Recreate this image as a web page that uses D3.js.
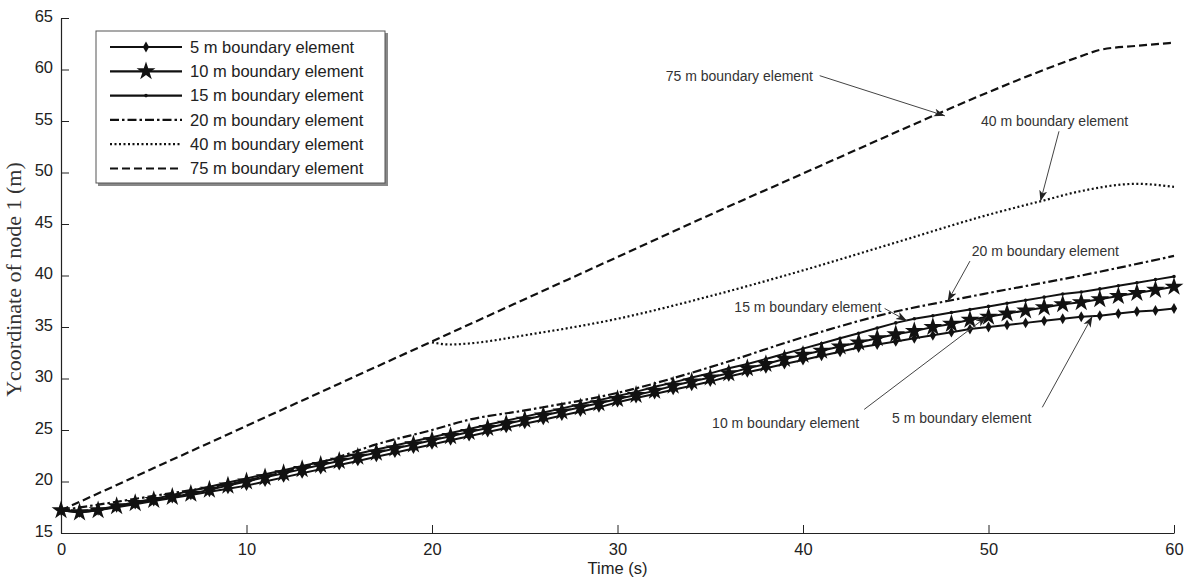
<!DOCTYPE html>
<html>
<head>
<meta charset="utf-8">
<script src="https://cdn.jsdelivr.net/npm/d3@7/dist/d3.min.js"></script>
<style>
  body { margin: 0; background: #fff; }
  svg { display: block; }
</style>
</head>
<body>
<svg id="chart"></svg>
<script>
// time stamps (s) of the marker series, one per second
const seconds = d3.range(0, 61);

// 5 m boundary element (diamonds)
const be5 = [17.2, 17.0, 17.2, 17.5, 17.8, 18.1, 18.4, 18.7, 19.0, 19.3,
  19.6, 20.0, 20.4, 20.8, 21.2, 21.6, 22.0, 22.4, 22.8, 23.2,
  23.6, 24.0, 24.4, 24.8, 25.2, 25.6, 26.0, 26.4, 26.8, 27.2,
  27.7, 28.1, 28.5, 28.9, 29.3, 29.7, 30.2, 30.6, 31.0, 31.4,
  31.8, 32.2, 32.6, 33.0, 33.3, 33.6, 33.9, 34.2, 34.5, 34.8,
  35.0, 35.2, 35.4, 35.6, 35.8, 36.0, 36.1, 36.3, 36.5, 36.6, 36.8];

// 10 m boundary element (stars)
const be10 = [17.2, 17.0, 17.2, 17.6, 17.9, 18.2, 18.5, 18.8, 19.2, 19.6,
  20.0, 20.4, 20.8, 21.2, 21.6, 22.0, 22.4, 22.8, 23.2, 23.6,
  24.0, 24.4, 24.8, 25.2, 25.6, 26.0, 26.4, 26.8, 27.2, 27.6,
  28.0, 28.4, 28.8, 29.3, 29.7, 30.1, 30.5, 31.0, 31.4, 31.9,
  32.3, 32.7, 33.1, 33.5, 33.9, 34.3, 34.6, 35.0, 35.3, 35.7,
  36.0, 36.3, 36.6, 36.9, 37.2, 37.4, 37.7, 38.0, 38.3, 38.6, 38.9];

// 15 m boundary element (small dots)
const be15 = [17.2, 17.1, 17.3, 17.6, 18.0, 18.3, 18.7, 19.1, 19.5, 19.9,
  20.3, 20.7, 21.1, 21.5, 21.9, 22.3, 22.7, 23.1, 23.5, 23.9,
  24.3, 24.7, 25.1, 25.5, 25.9, 26.3, 26.7, 27.1, 27.5, 27.9,
  28.3, 28.7, 29.2, 29.6, 30.1, 30.5, 31.0, 31.4, 31.9, 32.4,
  32.9, 33.4, 33.9, 34.4, 34.9, 35.4, 35.8, 36.1, 36.4, 36.7,
  37.0, 37.3, 37.6, 37.9, 38.2, 38.4, 38.7, 39.0, 39.3, 39.6, 39.9];

// 20 m boundary element (dash-dot)
const t20 = [0, 5, 10, 15, 17, 20, 22, 25, 30, 35, 40, 45, 48, 50, 55, 60];
const be20 = [17.2, 18.6, 20.1, 22.4, 23.6, 25.0, 26.0, 26.9, 28.6, 31.1, 34.0, 36.5, 37.6, 38.3, 40.0, 41.9];

// 40 m boundary element (dotted)
const t40 = [20, 21, 22, 25, 30, 35, 40, 45, 50, 53, 55, 58, 60];
const be40 = [33.5, 33.3, 33.4, 34.2, 35.8, 38.0, 40.5, 43.2, 45.9, 47.3, 48.2, 48.9, 48.6];

// 75 m boundary element (dashed)
const t75 = [0, 5, 10, 15, 20, 25, 30, 35, 40, 45, 50, 55, 56, 58, 60];
const be75 = [17.2, 21.3, 25.4, 29.5, 33.6, 37.7, 41.8, 45.9, 49.9, 53.9, 57.8, 61.3, 61.9, 62.3, 62.6];

const legendLabels = ["5 m boundary element", "10 m boundary element", "15 m boundary element",
  "20 m boundary element", "40 m boundary element", "75 m boundary element"];

const xTicks = [0, 10, 20, 30, 40, 50, 60];
const yTicks = [15, 20, 25, 30, 35, 40, 45, 50, 55, 60, 65];

// call-outs: label anchor, start of leader and arrow tip, all in data units
const notes = [
  {text: "75 m boundary element", tx: 32.6, ty: 59.4, x1: 40.9, y1: 59.4, x2: 47.65, y2: 55.5},
  {text: "40 m boundary element", tx: 49.6, ty: 55.0, x1: 53.8, y1: 54.0, x2: 52.8, y2: 47.2},
  {text: "20 m boundary element", tx: 49.1, ty: 42.4, x1: 49.0, y1: 41.4, x2: 47.8, y2: 37.5},
  {text: "15 m boundary element", tx: 36.3, ty: 36.9, x1: 44.4, y1: 36.8, x2: 45.6, y2: 35.6},
  {text: "10 m boundary element", tx: 35.1, ty: 25.7, x1: 43.3, y1: 27.0, x2: 49.9, y2: 36.0},
  {text: "5 m boundary element", tx: 44.8, ty: 26.2, x1: 52.9, y1: 27.2, x2: 55.6, y2: 36.05}
];

const width = 1186, height = 578;
const margin = {top: 18, right: 12, bottom: 45, left: 61};

const svg = d3.select("#chart")
  .attr("width", width)
  .attr("height", height)
  .attr("viewBox", [0, 0, width, height]);

const x = d3.scaleLinear().domain([0, 60]).range([margin.left, width - margin.right]);
const y = d3.scaleLinear().domain([15, 65]).range([height - margin.bottom, margin.top]);

const sans = "'Liberation Sans', Arial, sans-serif";

svg.append("defs").append("marker")
  .attr("id", "arrow")
  .attr("viewBox", "0 -5 12 10")
  .attr("refX", 11)
  .attr("refY", 0)
  .attr("markerWidth", 12)
  .attr("markerHeight", 10)
  .attr("markerUnits", "userSpaceOnUse")
  .attr("orient", "auto")
  .append("path")
  .attr("d", "M0,-4L11,0L0,4L3,0Z")
  .attr("fill", "#222");

// axes, ticks pointing inward
const xAxis = svg.append("g")
  .attr("transform", `translate(0,${height - margin.bottom})`)
  .call(d3.axisBottom(x).tickValues(xTicks).tickSize(-8).tickPadding(10).tickSizeOuter(0));

const yAxis = svg.append("g")
  .attr("transform", `translate(${margin.left},0)`)
  .call(d3.axisLeft(y).tickValues(yTicks).tickSize(-8).tickPadding(8).tickSizeOuter(0));

[xAxis, yAxis].forEach(g => {
  g.select(".domain").attr("stroke", "#222").attr("stroke-width", 1.2);
  g.selectAll(".tick line").attr("stroke", "#222");
  g.selectAll(".tick text").attr("fill", "#222").style("font-family", sans).style("font-size", "16.5px");
});
yAxis.selectAll(".tick text").attr("dy", "0.2em");

svg.append("text")
  .attr("x", (x(0) + x(60)) / 2)
  .attr("y", height - 4)
  .attr("text-anchor", "middle")
  .style("font-family", sans)
  .style("font-size", "16.5px")
  .attr("fill", "#222")
  .text("Time (s)");

svg.append("text")
  .attr("transform", `translate(21,${(y(15) + y(65)) / 2 + 4}) rotate(-90)`)
  .attr("text-anchor", "middle")
  .style("font-family", "'Liberation Serif', 'Times New Roman', serif")
  .style("font-size", "22px")
  .attr("fill", "#333")
  .text("Ycoordinate of node 1 (m)");

// series
const smooth = d3.line().x(d => x(d[0])).y(d => y(d[1])).curve(d3.curveMonotoneX);
const straight = d3.line().x(d => x(d[0])).y(d => y(d[1]));

const styled = [
  {t: t75, v: be75, dash: "8,4"},
  {t: t40, v: be40, dash: "2,2.5"},
  {t: t20, v: be20, dash: "9,3,2.5,3"}
];

const plot = svg.append("g");

styled.forEach(s => {
  plot.append("path")
    .datum(s.t.map((t, i) => [t, s.v[i]]))
    .attr("d", smooth)
    .attr("fill", "none")
    .attr("stroke", "#111")
    .attr("stroke-width", 2.2)
    .attr("stroke-dasharray", s.dash);
});

const markerSeries = [
  {v: be15, symbol: d3.symbolCircle, size: 10},
  {v: be10, symbol: d3.symbolStar, size: 110},
  {v: be5, symbol: d3.symbolDiamond, size: 34}
];

markerSeries.forEach(s => {
  const pts = seconds.map((t, i) => [t, s.v[i]]);
  plot.append("path")
    .datum(pts)
    .attr("d", straight)
    .attr("fill", "none")
    .attr("stroke", "#111")
    .attr("stroke-width", 2);
  plot.append("g")
    .selectAll("path")
    .data(pts)
    .join("path")
    .attr("transform", d => `translate(${x(d[0])},${y(d[1])})`)
    .attr("d", d3.symbol(s.symbol, s.size))
    .attr("fill", "#111");
});

// call-outs
const note = svg.append("g");
notes.forEach(n => {
  note.append("line")
    .attr("x1", x(n.x1)).attr("y1", y(n.y1))
    .attr("x2", x(n.x2)).attr("y2", y(n.y2))
    .attr("stroke", "#444")
    .attr("stroke-width", 1)
    .attr("marker-end", "url(#arrow)");
  note.append("text")
    .attr("x", x(n.tx))
    .attr("y", y(n.ty))
    .attr("dy", "0.35em")
    .style("font-family", sans)
    .style("font-size", "14px")
    .attr("fill", "#333")
    .text(n.text);
});

// legend
const legend = svg.append("g").attr("transform", "translate(96,31)");
legend.append("rect")
  .attr("x", 2).attr("y", 2)
  .attr("width", 290).attr("height", 153)
  .attr("fill", "#888");
legend.append("rect")
  .attr("width", 289).attr("height", 152)
  .attr("fill", "#fff")
  .attr("stroke", "#555")
  .attr("stroke-width", 1);

const legendStyles = [
  {dash: null, symbol: d3.symbolDiamond, size: 34},
  {dash: null, symbol: d3.symbolStar, size: 110},
  {dash: null, symbol: d3.symbolCircle, size: 10},
  {dash: "9,3,2.5,3"},
  {dash: "2,2.5"},
  {dash: "8,4"}
];

legendLabels.forEach((label, i) => {
  const row = legend.append("g").attr("transform", `translate(0,${16 + i * 24.3})`);
  const st = legendStyles[i];
  row.append("line")
    .attr("x1", 14).attr("x2", 86)
    .attr("stroke", "#111")
    .attr("stroke-width", 2.2)
    .attr("stroke-dasharray", st.dash);
  if (st.symbol) {
    row.append("path")
      .attr("transform", "translate(50,0)")
      .attr("d", d3.symbol(st.symbol, st.size))
      .attr("fill", "#111");
  }
  row.append("text")
    .attr("x", 94)
    .attr("dy", "0.35em")
    .style("font-family", sans)
    .style("font-size", "16.5px")
    .attr("fill", "#222")
    .text(label);
});
</script>
</body>
</html>
